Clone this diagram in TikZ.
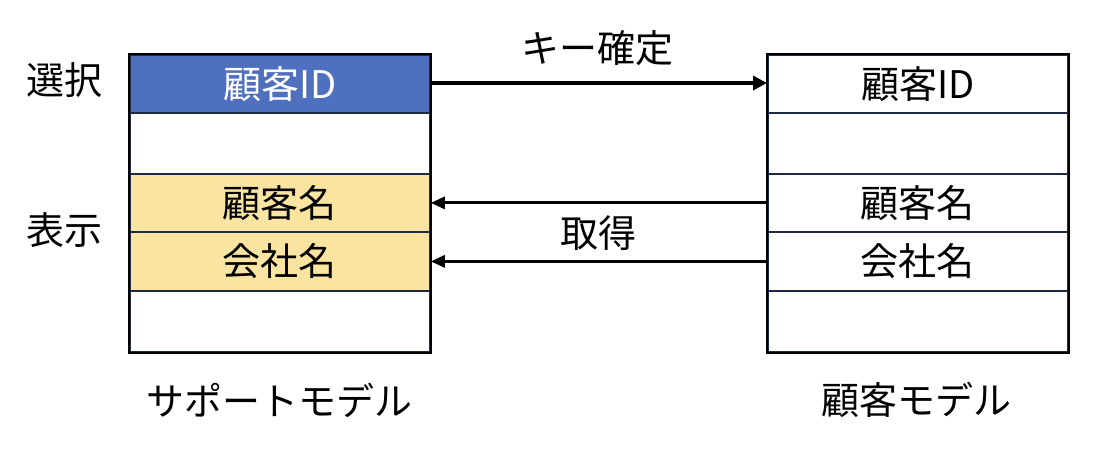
\documentclass[tikz,border=0pt]{standalone}
\usepackage{fontspec}
\setmainfont{Noto Sans CJK JP}
\usetikzlibrary{arrows.meta}
\definecolor{keyblue}{HTML}{4F70BE}
\definecolor{showyellow}{HTML}{FAE4A2}
\definecolor{rowline}{HTML}{1E2A44}
\begin{document}
\begin{tikzpicture}[x=1pt,y=-1pt,
  cell/.style={draw=rowline, line width=1.8pt, minimum width=300pt, inner sep=0pt, anchor=north west, font=\fontsize{38}{40}\selectfont},
  lbl/.style={font=\fontsize{38}{40}\selectfont, inner sep=0pt},
  conn/.style={line width=3pt, -{Triangle[length=14pt,width=12pt]}},
  thickconn/.style={line width=4.5pt, -{Triangle[length=14pt,width=14pt]}}]
\useasboundingbox (0,0) rectangle (1093,454);
% left table
\node[cell, fill=keyblue, text=white, minimum height=58pt] (l1) at (129,54) {顧客ID};
\node[cell, minimum height=61pt] (l2) at (129,112) {};
\node[cell, fill=showyellow, minimum height=58pt] (l3) at (129,173) {顧客名};
\node[cell, fill=showyellow, minimum height=59pt] (l4) at (129,231) {会社名};
\node[cell, minimum height=61pt] (l5) at (129,290) {};
% right table
\node[cell, minimum height=58pt] (r1) at (767,54) {顧客ID};
\node[cell, minimum height=61pt] (r2) at (767,112) {};
\node[cell, minimum height=58pt] (r3) at (767,173) {顧客名};
\node[cell, minimum height=59pt] (r4) at (767,231) {会社名};
\node[cell, minimum height=61pt] (r5) at (767,290) {};
% outer frames
\draw[line width=2pt, black] (l1.north west) rectangle (l5.south east);
\draw[line width=2pt, black] (r1.north west) rectangle (r5.south east);
% labels
\node[lbl] (sel) at (65,80) {選択};
\node[lbl] (disp) at (65,230) {表示};
\node[lbl] (keyfix) at (597,48) {キー確定};
\node[lbl] (get) at (598,233) {取得};
\node[lbl] (supm) at (279,400) {サポートモデル};
\node[lbl] (cusm) at (916,400) {顧客モデル};
% connectors
\draw[thickconn] ([yshift=-29pt]l1.north east) -- ([yshift=-29pt]r1.north west);
\draw[conn] (r3.west) -- (l3.east);
\draw[conn] (r4.west) -- (l4.east);
\end{tikzpicture}
\end{document}
